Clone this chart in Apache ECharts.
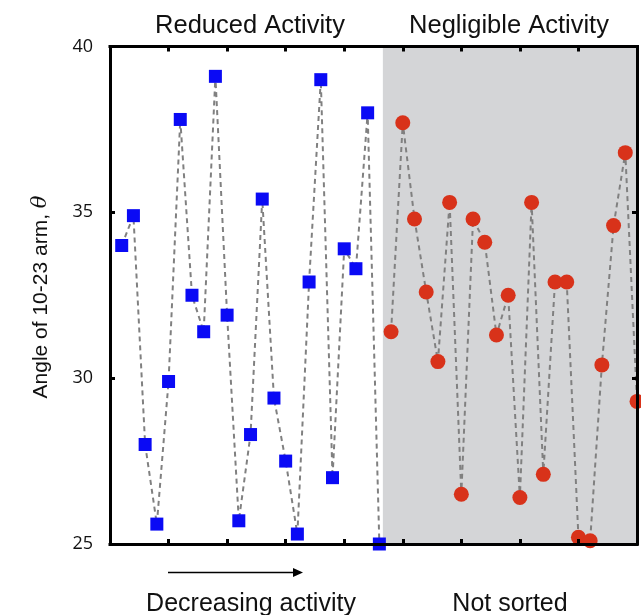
<!DOCTYPE html>
<html>
<head>
<meta charset="utf-8">
<script src="https://cdn.jsdelivr.net/npm/echarts@6/dist/echarts.min.js"></script>
<style>
html,body{margin:0;padding:0;background:#fff;}
#chart{width:641px;height:615px;}
</style>
</head>
<body>
<div id="chart"></div>
<script>
// ---- data ----
const reducedX = [1,2,3,4,5,6,7,8,9,10,11,12,13,14,15,16,17,18,19,20,21,22,23];
const reducedY = [34.0,34.9,28.0,25.6,29.9,37.8,32.5,31.4,39.1,31.9,25.7,28.3,35.4,29.4,27.5,25.3,32.9,39.0,27.0,33.9,33.3,38.0,25.0];
const negligibleX = [24,25,26,27,28,29,30,31,32,33,34,35,36,37,38,39,40,41,42,43,44,45];
const negligibleY = [31.4,37.7,34.8,32.6,30.5,35.3,26.5,34.8,34.1,31.3,32.5,26.4,35.3,27.1,32.9,32.9,25.2,25.1,30.4,34.6,36.8,29.3];
const yTicks = [25, 30, 35, 40];
const shadeRange = [23.3, 45];
const groupLabels = ['Reduced Activity', 'Negligible Activity'];
const bottomLabels = ['Decreasing activity', 'Not sorted'];
const yTitle = 'Angle of 10-23 arm, ';

const chart = echarts.init(document.getElementById('chart'), null, {renderer:'canvas'});
const FONT = '"Liberation Sans", Arial, Helvetica, sans-serif';

const pairs = (xs, ys) => xs.map((x, i) => [x, ys[i]]);

const axisLineStyle = {color:'#000', width:3, cap:'square'};
const tickStyle = {show:true, inside:true, length:5, lineStyle:{color:'#000', width:3}};

const option = {
  animation:false,
  backgroundColor:'#fff',
  grid:{left:110, right:4, top:46.5, bottom:71, containLabel:false},
  xAxis:[
    {type:'value', min:0, max:45, interval:5, position:'bottom', z:10,
     axisLine:{show:true, onZero:false, lineStyle:axisLineStyle},
     axisTick:tickStyle, axisLabel:{show:false}, splitLine:{show:false}},
    {type:'value', min:0, max:45, interval:5, position:'top', z:10,
     axisLine:{show:true, onZero:false, lineStyle:axisLineStyle},
     axisTick:tickStyle, axisLabel:{show:false}, splitLine:{show:false}}
  ],
  yAxis:[
    {type:'value', min:yTicks[0], max:yTicks[yTicks.length-1], interval:5, position:'left', z:10,
     axisLine:{show:true, onZero:false, lineStyle:axisLineStyle},
     axisTick:tickStyle,
     axisLabel:{show:true, color:'#111', fontSize:18, fontFamily:'"Open Sans", "Noto Sans", sans-serif', margin:17},
     splitLine:{show:false}},
    {type:'value', min:yTicks[0], max:yTicks[yTicks.length-1], interval:5, position:'right', z:10,
     axisLine:{show:true, onZero:false, lineStyle:axisLineStyle},
     axisTick:tickStyle, axisLabel:{show:false}, splitLine:{show:false}}
  ],
  series:[
    {type:'line', data:[], z:1, silent:true,
     markArea:{silent:true, itemStyle:{color:'#d4d5d7'},
       data:[[{xAxis:shadeRange[0]},{xAxis:shadeRange[1]}]]}},
    {type:'line', name:'reduced', data:pairs(reducedX, reducedY), z:3,
     symbol:'rect', symbolSize:13, showSymbol:true,
     itemStyle:{color:'#0a0af5'},
     lineStyle:{color:'#808080', width:2, type:[5,4]}},
    {type:'line', name:'negligible', data:pairs(negligibleX, negligibleY), z:3,
     symbol:'circle', symbolSize:15, showSymbol:true,
     itemStyle:{color:'#d8321a'},
     lineStyle:{color:'#808080', width:2, type:[5,4]}}
  ],
  graphic:[
    {type:'text', x:250, y:26, z:20,
     style:{text:groupLabels[0], fill:'#111', font:'25.5px '+FONT, textAlign:'center', textVerticalAlign:'middle'}},
    {type:'text', x:509, y:26, z:20,
     style:{text:groupLabels[1], fill:'#111', font:'25.5px '+FONT, textAlign:'center', textVerticalAlign:'middle'}},
    {type:'text', x:251, y:604, z:20,
     style:{text:bottomLabels[0], fill:'#111', font:'25px '+FONT, textAlign:'center', textVerticalAlign:'middle'}},
    {type:'text', x:510, y:604, z:20,
     style:{text:bottomLabels[1], fill:'#111', font:'25px '+FONT, textAlign:'center', textVerticalAlign:'middle'}},
    {type:'line', z:20, shape:{x1:168, y1:572.5, x2:296, y2:572.5}, style:{stroke:'#000', lineWidth:1.5}},
    {type:'polygon', z:20, shape:{points:[[303,572.5],[293,568],[293,577]]}, style:{fill:'#000'}},
    {type:'text', x:41, y:297, rotation:Math.PI/2, z:20,
     style:{text:'{n|'+yTitle+'}{t|θ}', textAlign:'center', textVerticalAlign:'middle',
       rich:{n:{fontSize:21, fontFamily:FONT, fill:'#111'}, t:{fontSize:21, fontFamily:'"DejaVu Serif", serif', fontStyle:'italic', fill:'#111'}}}}
  ]
};
chart.setOption(option);
</script>
</body>
</html>
